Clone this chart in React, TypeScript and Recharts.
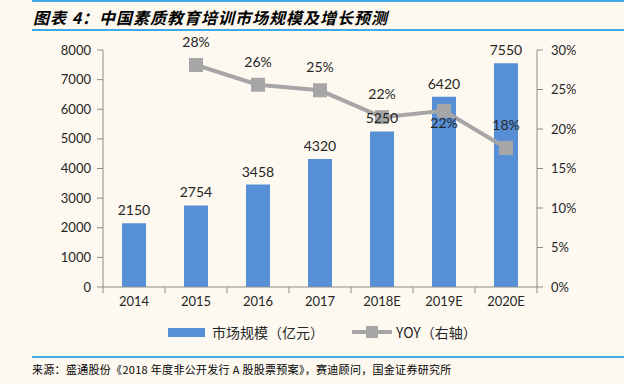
import { ComposedChart, Bar, Line, XAxis, YAxis, LabelList } from 'recharts';

const years = ['2014', '2015', '2016', '2017', '2018E', '2019E', '2020E'];
const marketSize = [2150, 2754, 3458, 4320, 5250, 6420, 7550];
const yoy = [null, 0.281, 0.256, 0.249, 0.215, 0.223, 0.176];
const leftTicks = [0, 1000, 2000, 3000, 4000, 5000, 6000, 7000, 8000];
const rightTicks = [0, 0.05, 0.1, 0.15, 0.2, 0.25, 0.3];

const data = years.map((year, i) => ({ year, size: marketSize[i], yoy: yoy[i] }));

const BLUE = '#568fd6';
const GRAY = '#a6a6a6';
const AXIS = '#8c8c8c';
const TEXT = '#262626';
const FONT = 'Lato, "Noto Sans CJK SC", sans-serif';
const CJK = '"Noto Sans CJK SC", sans-serif';

// ticks sit on category boundaries, so draw them from the label position
function XTick(props: any) {
  const { x, y, payload, index } = props;
  const half = 31;
  return (
    <g>
      <line x1={x - half} y1={y - 8} x2={x - half} y2={y - 2} stroke={AXIS} />
      {index === years.length - 1 && (
        <line x1={x + half} y1={y - 8} x2={x + half} y2={y - 2} stroke={AXIS} />
      )}
      <text x={x} y={y + 11} textAnchor="middle" fill={TEXT} fontSize={13} fontFamily={FONT}>
        {payload.value}
      </text>
    </g>
  );
}

function YoyLabel(props: any) {
  const { x, y, value, index } = props;
  if (value == null) return null;
  const below = years[index] === '2019E';
  return (
    <text
      x={x}
      y={below ? y + 17 : y - 18}
      textAnchor="middle"
      fill={TEXT}
      fontSize={14}
      fontFamily={FONT}
    >
      {Math.round(value * 100) + '%'}
    </text>
  );
}

export default function App() {
  return (
    <div
      style={{
        position: 'absolute',
        left: 0,
        top: 0,
        width: 624,
        height: 384,
        background: '#fdf9f0',
        overflow: 'hidden',
      }}
    >
      <div style={{ position: 'absolute', left: 32, right: 0, top: 0, height: 2, background: '#3ea9e6' }} />
      <div
        style={{
          position: 'absolute',
          left: 33,
          top: 5,
          fontFamily: CJK,
          fontWeight: 'bold',
          fontStyle: 'italic',
          fontSize: 16,
          letterSpacing: 1,
          color: '#000',
        }}
      >
        图表 4：中国素质教育培训市场规模及增长预测
      </div>
      <div style={{ position: 'absolute', left: 32, right: 0, top: 29, height: 2, background: '#3ea9e6' }} />

      <div style={{ position: 'absolute', left: 0, top: 0 }}>
        <ComposedChart
          width={624}
          height={384}
          data={data}
          margin={{ top: 50, right: 0, bottom: 67, left: 0 }}
        >
          <XAxis
            dataKey="year"
            axisLine={{ stroke: AXIS }}
            tickLine={false}
            tick={<XTick />}
            height={30}
            interval={0}
          />
          <YAxis
            yAxisId="left"
            domain={[0, 8000]}
            ticks={leftTicks}
            width={103}
            axisLine={{ stroke: AXIS }}
            tickLine={{ stroke: AXIS }}
            tickSize={6}
            tickMargin={6}
            tick={{ fill: TEXT, fontSize: 13, fontFamily: FONT }}
          />
          <YAxis
            yAxisId="right"
            orientation="right"
            domain={[0, 0.3]}
            ticks={rightTicks}
            width={87}
            axisLine={{ stroke: AXIS }}
            tickLine={{ stroke: AXIS }}
            tickSize={6}
            tickMargin={8}
            tickFormatter={(v: number) => Math.round(v * 100) + '%'}
            tick={{ fill: TEXT, fontSize: 13, fontFamily: FONT }}
          />
          <Bar yAxisId="left" dataKey="size" fill={BLUE} barSize={24} isAnimationActive={false}>
            <LabelList dataKey="size" position="top" offset={8} fill={TEXT} fontSize={14} fontFamily={FONT} />
          </Bar>
          <Line
            yAxisId="right"
            dataKey="yoy"
            stroke={GRAY}
            strokeWidth={4}
            isAnimationActive={false}
            dot={(p: any) =>
              p.value == null ? (
                <g key={p.index} />
              ) : (
                <rect key={p.index} x={p.cx - 7} y={p.cy - 7} width={14} height={14} fill={GRAY} />
              )
            }
          >
            <LabelList dataKey="yoy" content={<YoyLabel />} />
          </Line>
        </ComposedChart>
      </div>

      <div
        style={{
          position: 'absolute',
          left: 168,
          top: 322,
          display: 'flex',
          alignItems: 'center',
          fontFamily: CJK,
          fontSize: 14,
          color: TEXT,
        }}
      >
        <span style={{ display: 'inline-block', width: 37, height: 9, background: BLUE, marginRight: 7 }} />
        <span>市场规模（亿元）</span>
        <span style={{ display: 'inline-block', position: 'relative', width: 40, height: 14, marginLeft: 28, marginRight: 4 }}>
          <span style={{ position: 'absolute', left: 0, right: 0, top: 5, height: 4, background: GRAY }} />
          <span style={{ position: 'absolute', left: 14, top: 1, width: 12, height: 12, background: GRAY }} />
        </span>
        <span>YOY（右轴）</span>
      </div>

      <div style={{ position: 'absolute', left: 32, right: 0, top: 356, height: 2, background: '#3ea9e6' }} />
      <div
        style={{
          position: 'absolute',
          left: 32,
          top: 361,
          fontFamily: CJK,
          fontSize: 11,
          letterSpacing: 0.3,
          color: '#000',
          whiteSpace: 'nowrap',
        }}
      >
        来源：盛通股份《2018 年度非公开发行 A 股股票预案》，赛迪顾问，国金证券研究所
      </div>
    </div>
  );
}
